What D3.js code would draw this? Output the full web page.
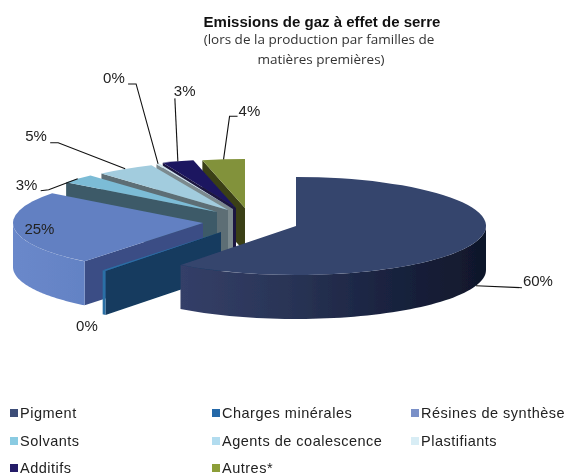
<!DOCTYPE html>
<html><head><meta charset="utf-8">
<script src="https://cdn.jsdelivr.net/npm/d3@7"></script>
<style>html,body{margin:0;padding:0;background:#fff}svg{display:block}</style>
</head><body><svg id="c" width="566" height="475"></svg>
<script>
// ---- data
const categories = ["Pigment","Charges minérales","Résines de synthèse","Solvants","Agents de coalescence","Plastifiants","Additifs","Autres*"];
const values = [60.4,0.3,24.7,3,5,0.3,2.7,3.6];
const valueLabels = ["60%","0%","25%","3%","5%","0%","3%","4%"];
const titleLines = ["Emissions de gaz à effet de serre"];
const subtitleLines = ["(lors de la production par familles de","matières premières)"];
// ---- styles
const topColors  = ["#34446d","#2a6fa6","#6280c2","#7cbcd6","#a2ccde","#cfe3ea","#1f1860","#82923a"];
const wallColors = ["#34446d","#123a5f","#3a4e85","#3d5a68","#5d6e74","#7b8a8e","#1a1440","#3a4015"];
const legendColors = ["#3d4d78","#2468a8","#7a90c8","#8acbe2","#b2dcef","#d8edf5","#241c68","#8c9e38"];
// ---- layout: explosion of each slice from the pie centre (px)
const cx = 296, cy = 226, rx = 190, ry = 49, depth = 44;
const explode = [[0,0],[-75,6],[-93,-3],[-79,-14],[-68,-16],[-63,-17],[-60,-18],[-51,-18]];
// elbow offsets of the leader lines and label placement, relative to the anchor on the slice
const labelLayout = [
  {line:[[46,2]],lab:[47,0],rim:true},
  {lab:[-28,60],none:true},
  {lab:[10,5],none:true},
  {line:[[-29,11],[-37,12]],lab:[-62,11]},
  {line:[[-67,-26],[-75,-26]],lab:[-100,-28]},
  {line:[[-22,-80],[-30,-80]],lab:[-55,-81]},
  {line:[[-3,-63]],lab:[-4,-65]},
  {line:[[6,-43],[14,-43]],lab:[15,-43]}
];
const legendCols=[10,212,411], legendRows=[413,441,468];

const svg = d3.select("#c");
const defs = svg.append("defs");
const rimGrad = (id,stops,x1,x2)=>{const g=defs.append("linearGradient").attr("id",id).attr("gradientUnits","userSpaceOnUse")
  .attr("x1",x1).attr("x2",x2).attr("y1",0).attr("y2",0);
  stops.forEach((c,i)=>g.append("stop").attr("offset",i/(stops.length-1)).attr("stop-color",c));};
rimGrad("rim0",["#343f68","#2a3557","#1a2340","#10172a"],180,486);
rimGrad("rim2",["#6a88ca","#6382c4"],13,90);
defs.append("filter").attr("id","soft").append("feGaussianBlur").attr("stdDeviation",0.45);

const pie = d3.pie().sort(null).value(d=>d)(values);
const tilt = d3.scaleLinear().domain([0,rx]).range([0,ry]);
const pt = (i,a,extra=0)=>[cx+explode[i][0]+rx*Math.sin(a), cy+explode[i][1]-tilt(rx)*Math.cos(a)+extra];
const apex = (i,extra=0)=>[cx+explode[i][0], cy+explode[i][1]+extra];
const line = d3.line();
const chart = svg.append("g").attr("filter","url(#soft)");
const arcGen = d3.arc().innerRadius(0).outerRadius(rx);
const D90=Math.PI/2, D270=3*Math.PI/2;

// painter's order: back slices first, the pigment slice last
d3.range(values.length-1,-1,-1).forEach(i=>{
  const p=pie[i], g=chart.append("g");
  // start wall, when it faces the viewer
  if(p.startAngle>Math.PI){
    g.append("path").attr("d",line([apex(i),pt(i,p.startAngle),pt(i,p.startAngle,depth),apex(i,depth)])+"Z").attr("fill",wallColors[i]);
  }
  // outer rim on the front half
  const a0=Math.max(p.startAngle,D90), a1=Math.min(p.endAngle,D270);
  if(a1>a0){
    const as=d3.range(0,61).map(k=>a0+(a1-a0)*k/60);
    const poly=as.map(a=>pt(i,a)).concat(as.slice().reverse().map(a=>pt(i,a,depth)));
    g.append("path").attr("d",line(poly)+"Z").attr("fill",i===0?"url(#rim0)":i===2?"url(#rim2)":topColors[i]);
  }
  // top face
  g.append("path").attr("d",arcGen(p))
    .attr("transform",`translate(${apex(i)}) scale(1,${tilt(rx)/rx})`)
    .attr("fill",topColors[i]);
});

// leader lines and labels
const labels = svg.append("g").attr("font-family","'Liberation Sans',Arial,sans-serif").attr("font-size",15).attr("fill","#222");
pie.forEach((p,i)=>{
  const mid=(p.startAngle+p.endAngle)/2, L=labelLayout[i];
  const a=pt(i,mid,L.rim?depth:0);
  if(!L.none){
    const pts=[a].concat(L.line.map(o=>[a[0]+o[0],a[1]+o[1]]));
    labels.append("path").attr("d",line(pts)).attr("fill","none").attr("stroke","#111").attr("stroke-width",1.1);
  }
  labels.append("text").attr("x",a[0]+L.lab[0]).attr("y",a[1]+L.lab[1]).text(valueLabels[i]);
});

// titles
svg.append("text").attr("x",322).attr("y",27).attr("text-anchor","middle")
  .attr("font-family","'Liberation Sans',Arial,sans-serif").attr("font-weight","bold").attr("font-size",15).attr("fill","#111").text(titleLines[0]);
svg.selectAll("text.sub").data(subtitleLines).join("text").attr("class","sub")
  .attr("x",(d,i)=>i?321:319).attr("y",(d,i)=>i?64:44).attr("text-anchor","middle")
  .attr("font-family","'Open Sans',sans-serif").attr("font-size",13.5).attr("fill","#333").text(d=>d);

// legend
const leg=svg.append("g").attr("font-family","'Liberation Sans',Arial,sans-serif").attr("font-size",14.5).attr("letter-spacing",0.5).attr("fill","#222");
categories.forEach((c,i)=>{
  const x=legendCols[i%3], y=legendRows[Math.floor(i/3)];
  leg.append("rect").attr("x",x).attr("y",y-4).attr("width",8).attr("height",8).attr("fill",legendColors[i]);
  leg.append("text").attr("x",x+10).attr("y",y+5).text(c);
});
</script></body></html>
